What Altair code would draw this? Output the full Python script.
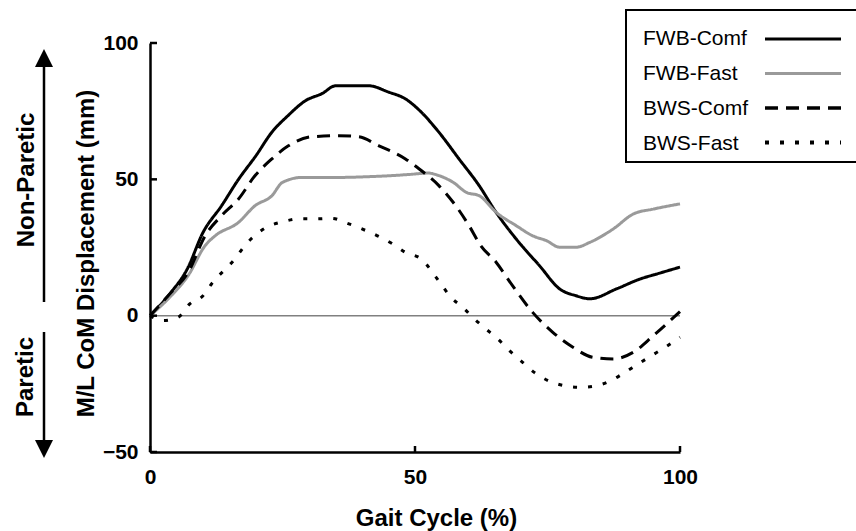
import altair as alt
import pandas as pd

FONT = "Liberation Sans"

# ---------------- data ----------------
series_names = ["FWB-Comf", "FWB-Fast", "BWS-Comf", "BWS-Fast"]
series_colors = ["#000000", "#9a9a9a", "#000000", "#000000"]
series_dashes = [[1, 0], [1, 0], [13, 8], [4, 11]]
series_widths = [3, 3, 3.5, 4]

fwb_comf_x = [0, 4, 7, 10, 13.5, 16.7, 20, 23, 26, 29.3, 32.5, 35, 41.3, 45, 48.2, 51, 54.5,
              58.3, 62.1, 65.3, 69.1, 73.5, 77.3, 80.4, 83, 88, 92.4, 96, 100]
fwb_comf_y = [0, 8.6, 17, 30.5, 40.3, 50, 58.7, 67.3, 73.3, 78.8, 81.5, 84.3, 84.3, 82, 79.5, 75,
              67.3, 57.5, 47.7, 37.9, 28.1, 18.3, 9.8, 7.3, 6.2, 9.8, 13.4, 15.5, 17.8]

fwb_fast_x = [0, 4, 7.2, 10.4, 12.3, 16.7, 19.8, 23, 25, 28.7, 35.6, 41.5, 45, 49, 52.5, 54.3,
              57.2, 59.7, 62.1, 65.3, 69.1, 72.2, 74.8, 77.3, 80.4, 83, 87.4, 91.2, 95, 100]
fwb_fast_y = [0, 7.3, 14.7, 25.7, 29.3, 34.2, 40.3, 44, 48.9, 50.7, 50.7, 51, 51.3, 51.8, 52.3, 51.5,
              48.9, 45.2, 44, 37.9, 33, 29.3, 27.5, 25.1, 25.1, 26.9, 31.8, 37.3, 39.1, 41]

bws_comf_x = [0, 4, 7.2, 10.4, 13.5, 16.7, 19.8, 23, 26.1, 30.5, 35.6, 39.4, 43.2, 48.2, 50.8,
              54.5, 57.7, 60.2, 62.4, 65.3, 68.4, 72.2, 76, 79.8, 83.6, 87.4, 91.2, 95, 100]
bws_comf_y = [0, 8.6, 15.9, 29.3, 36.7, 42.8, 51.3, 57.5, 62.3, 65.6, 66, 65.6, 62.3, 57.5, 53.8,
              47.7, 40.3, 33, 25.7, 19.6, 11, 1.2, -6.1, -11.6, -15.3, -15.9, -13.4, -7.3, 1.5]

bws_fast_x = [0, 2.5, 5.3, 7.5, 10, 11.6, 16, 17.9, 22, 25.2, 28, 31.2, 34.3, 37.2, 40, 42.9,
              45.8, 48.2, 51, 54.9, 56.8, 59, 61.2, 63.4, 65.6, 67.8, 70.3, 72.5, 75.1, 78.2,
              81.1, 84.2, 87, 89.6, 92.1, 94.6, 97.2, 100]
bws_fast_y = [0, -1.8, -0.6, 4.3, 7.3, 11.6, 20.8, 25.7, 32.4, 34.5, 35.5, 35.5, 35.7, 33.9, 31.8,
              29.3, 26.3, 23.2, 21, 11.6, 6.7, 3.1, -1.2, -4.9, -8.5, -12.8, -17.1, -20.8, -23.8,
              -25.7, -26.3, -25.7, -23.8, -20.8, -17.7, -14.7, -11.6, -7.9]

x_ticks = [0, 50, 100]
y_ticks = [-50, 0, 50, 100]

# ---------------- table ----------------
rows = []
for name, xs, ys in zip(series_names,
                        [fwb_comf_x, fwb_fast_x, bws_comf_x, bws_fast_x],
                        [fwb_comf_y, fwb_fast_y, bws_comf_y, bws_fast_y]):
    for i, (xv, yv) in enumerate(zip(xs, ys)):
        rows.append({"series": name, "x": xv, "y": yv, "order": i})
df = pd.DataFrame(rows)

W, H = 530, 409
x_scale = alt.Scale(domain=[0, 100], nice=False, zero=False)
y_scale = alt.Scale(domain=[-50, 100], nice=False, zero=False)

x_axis = alt.Axis(
    values=x_ticks, format="d", title="Gait Cycle (%)", grid=False,
    ticks=False, tickSize=0, domainColor="black", domainWidth=2.5,
    labelFont=FONT, labelFontSize=21, labelFontWeight="bold", labelColor="black",
    labelPadding=14, labelFlush=False,
    titleFont=FONT, titleFontSize=24, titleFontWeight="bold", titleColor="black",
    titleX=286, titleY=66, titleBaseline="middle", titleAlign="center",
)
y_axis = alt.Axis(
    values=y_ticks, format="d", title="M/L CoM Displacement (mm)", grid=False,
    ticks=False, tickSize=0, domainColor="black", domainWidth=2.5,
    labelFont=FONT, labelFontSize=21, labelFontWeight="bold", labelColor="black",
    labelPadding=12, labelFlush=False,
    titleFont=FONT, titleFontSize=24, titleFontWeight="bold", titleColor="black",
    titleX=-64, titleY=210, titleAngle=270, titleBaseline="middle", titleAlign="center",
)

zero_df = pd.DataFrame({"x": [0], "x2": [100], "y": [0]})
zero_line = alt.Chart(zero_df).mark_rule(color="#808080", strokeWidth=1.5).encode(
    x=alt.X("x:Q", scale=x_scale, axis=x_axis),
    x2="x2:Q",
    y=alt.Y("y:Q", scale=y_scale, axis=y_axis),
)

lines = alt.Chart(df).mark_line(strokeCap="butt", strokeJoin="round", interpolate="monotone").encode(
    x=alt.X("x:Q", scale=x_scale, axis=x_axis),
    y=alt.Y("y:Q", scale=y_scale, axis=y_axis),
    color=alt.Color("series:N", scale=alt.Scale(domain=series_names, range=series_colors), legend=None),
    strokeDash=alt.StrokeDash("series:N", scale=alt.Scale(domain=series_names, range=series_dashes), legend=None),
    strokeWidth=alt.StrokeWidth("series:N", scale=alt.Scale(domain=series_names, range=series_widths), legend=None),
    order="order:Q",
)

# inward ticks
ytick_layer = alt.Chart(pd.DataFrame({"v": y_ticks})).mark_rule(color="black", strokeWidth=2.5).encode(
    y=alt.Y("v:Q", scale=y_scale, axis=y_axis), x=alt.value(0), x2=alt.value(7))
xtick_layer = alt.Chart(pd.DataFrame({"v": x_ticks})).mark_rule(color="black", strokeWidth=2.5).encode(
    x=alt.X("v:Q", scale=x_scale, axis=x_axis), y=alt.value(H), y2=alt.value(H - 6))

one = pd.DataFrame({"a": [0]})
OX, OY = 150, 43  # plot origin in page pixels

layers = [zero_line, lines, ytick_layer, xtick_layer]
# legend box
layers.append(alt.Chart(one).mark_rect(fill="white", stroke="black", strokeWidth=2).encode(
    x=alt.value(626 - OX), x2=alt.value(862 - OX), y=alt.value(10 - OY), y2=alt.value(162 - OY)))
leg_text_y = [45, 80, 115, 150]
leg_line_y = [39, 73.5, 108, 142.5]
for name, col, dash, wdt, ty, ly in zip(series_names, series_colors, series_dashes, series_widths,
                                        leg_text_y, leg_line_y):
    layers.append(alt.Chart(one).mark_text(text=name, font=FONT, fontSize=21, align="left",
                                           baseline="alphabetic", color="black").encode(
        x=alt.value(643 - OX), y=alt.value(ty - OY)))
    layers.append(alt.Chart(one).mark_rule(color=col, strokeDash=dash, strokeWidth=wdt, strokeCap="butt").encode(
        x=alt.value(765 - OX), x2=alt.value(841 - OX), y=alt.value(ly - OY)))

# side annotations
layers.append(alt.Chart(one).mark_text(text="Non-Paretic", font=FONT, fontSize=24, fontWeight="bold",
                                       angle=270, align="center", baseline="middle", color="black").encode(
    x=alt.value(27 - OX), y=alt.value(180 - OY)))
layers.append(alt.Chart(one).mark_text(text="Paretic", font=FONT, fontSize=24, fontWeight="bold",
                                       angle=270, align="center", baseline="middle", color="black").encode(
    x=alt.value(26 - OX), y=alt.value(377 - OY)))
# arrows
layers.append(alt.Chart(one).mark_rule(color="black", strokeWidth=2.5).encode(
    x=alt.value(44 - OX), y=alt.value(64 - OY), y2=alt.value(302 - OY)))
layers.append(alt.Chart(one).mark_rule(color="black", strokeWidth=2.5).encode(
    x=alt.value(44 - OX), y=alt.value(332 - OY), y2=alt.value(443 - OY)))
layers.append(alt.Chart(one).mark_point(shape="M0,-1L1,1L-1,1Z", size=324, filled=True, opacity=1,
                                        color="black", strokeWidth=0).encode(
    x=alt.value(44 - OX), y=alt.value(58 - OY)))
layers.append(alt.Chart(one).mark_point(shape="M0,1L1,-1L-1,-1Z", size=324, filled=True, opacity=1,
                                        color="black", strokeWidth=0).encode(
    x=alt.value(44 - OX), y=alt.value(449 - OY)))

chart = alt.layer(*layers).properties(
    width=W, height=H,
    padding={"left": OX, "top": OY, "right": 856 - OX - W, "bottom": 531 - OY - H},
    autosize=alt.AutoSizeParams(type="none"),
    background="white",
).configure_view(stroke=None)

chart.save("out.html", embed_options={"renderer": "svg", "actions": False})
